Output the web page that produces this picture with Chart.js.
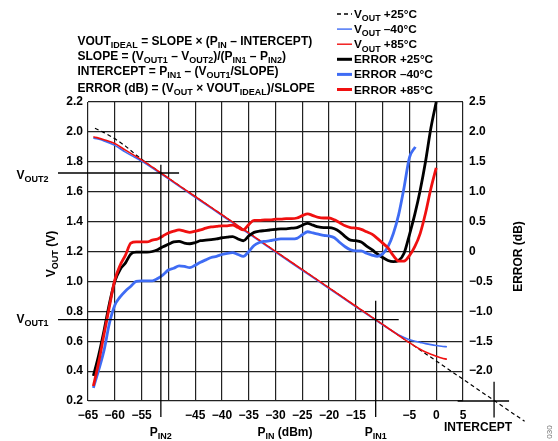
<!DOCTYPE html>
<html>
<head>
<meta charset="utf-8">
<script src="https://cdn.jsdelivr.net/npm/chart.js@4.4.1/dist/chart.umd.min.js"></script>
<style>
  body { margin: 0; background: #fff; }
  canvas { display: block; }
</style>
</head>
<body>
<canvas id="chart" width="558" height="441"></canvas>
<script>
// input power (dBm) and readings taken from the plot
const pinVout25 = [-63.7, -62, -60, -58, -56, -54, -50, -40, -30, -20, -10, 0, 16.5];
const vout25 = [2.024, 1.995, 1.955, 1.905, 1.845, 1.79, 1.691, 1.446, 1.201, 0.957, 0.712, 0.468, 0.064];

const pinVout = [-64, -62, -60, -58, -56, -55, -50, -45, -40, -35, -30, -25, -20, -15, -10, -8, -7, -6, -5, -4, -3, -2, -1, 0, 1, 2];
const voutM40 = [1.96, 1.94, 1.91, 1.865, 1.825, 1.805, 1.686, 1.563, 1.441, 1.319, 1.196, 1.074, 0.952, 0.830, 0.710, 0.663, 0.642, 0.625, 0.610, 0.600, 0.592, 0.584, 0.577, 0.571, 0.566, 0.563];
const vout85 = [1.968, 1.948, 1.922, 1.878, 1.835, 1.813, 1.691, 1.568, 1.446, 1.324, 1.201, 1.079, 0.957, 0.834, 0.712, 0.663, 0.638, 0.614, 0.590, 0.567, 0.546, 0.528, 0.513, 0.500, 0.488, 0.479];

const pinErr = [-64, -63, -62, -61, -60, -59, -58, -57, -56, -55, -54, -53, -52, -51, -50, -49, -48, -47, -46, -45,
  -44, -43, -42, -41, -40, -39, -38, -37, -36, -35, -34, -33, -32, -31, -30, -29, -28, -27, -26, -25,
  -24, -23, -22, -21, -20, -19, -18, -17, -16, -15, -14, -13, -12, -11, -10, -9, -8, -7, -6, -5, -4, -3, -2, -1, 0];
const err25 = [-2.08, -1.73, -1.32, -0.87, -0.50, -0.30, -0.19, -0.04, -0.01, -0.01, -0.01, 0.00, 0.03, 0.08, 0.12, 0.16, 0.17, 0.14, 0.13, 0.15,
  0.18, 0.19, 0.20, 0.21, 0.23, 0.24, 0.25, 0.21, 0.18, 0.26, 0.32, 0.34, 0.35, 0.36, 0.37, 0.38, 0.38, 0.39, 0.40, 0.44,
  0.47, 0.44, 0.41, 0.40, 0.40, 0.38, 0.33, 0.25, 0.19, 0.18, 0.16, 0.09, 0.03, -0.04, -0.10, -0.15, -0.17, -0.15, -0.03, 0.28, 0.62, 1.02, 1.50, 2.06, 2.50];
const err85 = [-2.25, -1.85, -1.38, -0.92, -0.48, -0.23, -0.06, 0.14, 0.16, 0.16, 0.16, 0.19, 0.21, 0.26, 0.31, 0.34, 0.36, 0.34, 0.32, 0.34,
  0.36, 0.39, 0.41, 0.42, 0.43, 0.43, 0.44, 0.40, 0.36, 0.45, 0.52, 0.52, 0.53, 0.53, 0.54, 0.54, 0.55, 0.55, 0.56, 0.60,
  0.63, 0.60, 0.57, 0.56, 0.56, 0.53, 0.48, 0.43, 0.40, 0.39, 0.37, 0.33, 0.29, 0.22, 0.14, 0.06, -0.07, -0.16, -0.16, -0.07, 0.08, 0.30, 0.64, 1.05, 1.40];
const pinErrM40 = [-64, -63, -62, -61, -60, -59, -58, -57, -56, -55, -54, -53, -52, -51, -50, -49, -48, -47, -46, -45,
  -44, -43, -42, -41, -40, -39, -38, -37, -36, -35, -34, -33, -32, -31, -30, -29, -28, -27, -26, -25,
  -24, -23, -22, -21, -20, -19, -18, -17, -16, -15, -14, -13, -12, -11, -10, -9, -8, -7, -6, -5, -3.9];
const errM40 = [-2.28, -1.98, -1.65, -1.20, -0.90, -0.76, -0.66, -0.58, -0.50, -0.49, -0.49, -0.49, -0.45, -0.39, -0.31, -0.28, -0.24, -0.25, -0.27, -0.23,
  -0.18, -0.14, -0.10, -0.08, -0.05, -0.03, -0.02, -0.05, -0.08, 0.00, 0.10, 0.15, 0.17, 0.18, 0.20, 0.21, 0.21, 0.21, 0.22, 0.28,
  0.33, 0.31, 0.29, 0.27, 0.26, 0.23, 0.15, 0.08, 0.03, 0.01, 0.01, -0.03, -0.06, -0.08, -0.04, 0.08, 0.30, 0.62, 1.07, 1.57, 1.75];

// two-point calibration markers
const pin2 = -51.4, pin1 = -11.3, vout2 = 1.725, vout1 = 0.744, intercept = 10.8;

const formulas = [
  'VOUT_{IDEAL} = SLOPE × (P_{IN} – INTERCEPT)',
  'SLOPE = (V_{OUT1} – V_{OUT2})/(P_{IN1} – P_{IN2})',
  'INTERCEPT = P_{IN1} – (V_{OUT1}/SLOPE)',
  'ERROR (dB) = (V_{OUT} × VOUT_{IDEAL})/SLOPE'
];

const BLUE = '#3f6cf4', RED = '#f01010', FONT = '"Liberation Sans", Arial, sans-serif';

function pts(xs, ys) { return xs.map((x, i) => ({ x: x, y: ys[i] })); }
function minus(s) { return String(s).replace('-', '\u2212'); }

function parts(str) {
  const bits = str.split(/_\{([^}]*)\}/);
  return bits.map((t, i) => [t, i % 2 === 1]).filter(p => p[0] !== '');
}
function richWidth(ctx, str, size) {
  let w = 0;
  parts(str).forEach(([t, sub]) => {
    ctx.font = 'bold ' + (sub ? size * 0.75 : size) + 'px ' + FONT;
    w += ctx.measureText(t).width;
  });
  return w;
}
function rich(ctx, str, x, y, size, align) {
  if (align === 'center') x -= richWidth(ctx, str, size) / 2;
  ctx.textAlign = 'left';
  ctx.textBaseline = 'alphabetic';
  parts(str).forEach(([t, sub]) => {
    ctx.font = 'bold ' + (sub ? size * 0.75 : size) + 'px ' + FONT;
    ctx.fillText(t, x, sub ? y + size * 0.28 : y);
    x += ctx.measureText(t).width;
  });
}

const datasets = [
  { label: 'VOUT +25°C', rich: 'V_{OUT} +25°C', data: pts(pinVout25, vout25), yAxisID: 'y', borderColor: '#000', borderWidth: 1.2, borderDash: [4, 3], tension: 0, clip: false, order: 5 },
  { label: 'VOUT -40°C', rich: 'V_{OUT} –40°C', data: pts(pinVout, voutM40), yAxisID: 'y', borderColor: BLUE, borderWidth: 1.6, cubicInterpolationMode: 'monotone', order: 4 },
  { label: 'VOUT +85°C', rich: 'V_{OUT} +85°C', data: pts(pinVout, vout85), yAxisID: 'y', borderColor: RED, borderWidth: 1.6, cubicInterpolationMode: 'monotone', order: 3 },
  { label: 'ERROR +25°C', rich: 'ERROR +25°C', data: pts(pinErr, err25), yAxisID: 'y2', borderColor: '#000', borderWidth: 2.8, cubicInterpolationMode: 'monotone', order: 2 },
  { label: 'ERROR -40°C', rich: 'ERROR –40°C', data: pts(pinErrM40, errM40), yAxisID: 'y2', borderColor: BLUE, borderWidth: 2.8, cubicInterpolationMode: 'monotone', order: 1 },
  { label: 'ERROR +85°C', rich: 'ERROR +85°C', data: pts(pinErr, err85), yAxisID: 'y2', borderColor: RED, borderWidth: 2.8, cubicInterpolationMode: 'monotone', order: 0 }
];

const decorations = {
  id: 'decorations',
  afterDraw(chart) {
    const ctx = chart.ctx, xs = chart.scales.x, ys = chart.scales.y;
    const X = v => xs.getPixelForValue(v), Y = v => ys.getPixelForValue(v);
    ctx.save();
    ctx.strokeStyle = '#000';
    ctx.lineWidth = 1.3;
    const seg = (x0, y0, x1, y1) => { ctx.beginPath(); ctx.moveTo(x0, y0); ctx.lineTo(x1, y1); ctx.stroke(); };
    seg(X(-70.6), Y(vout2), X(-48), Y(vout2));
    seg(X(-70.6), Y(vout1), X(-7), Y(vout1));
    seg(X(pin2), Y(1.78), X(pin2), Y(0.093));
    seg(X(pin1), Y(0.871), X(pin1), Y(0.093));
    seg(X(intercept), Y(0.329), X(intercept), Y(0.09));
    seg(X(4.0), Y(0.2), X(13.6), Y(0.2));

    ctx.fillStyle = '#000';
    formulas.forEach((f, i) => rich(ctx, f, 77.5, [45, 60, 75, 91.5][i], 12));

    // legend
    chart.data.datasets.forEach((ds, i) => {
      const y = 14 + i * 15.1;
      ctx.strokeStyle = ds.borderColor;
      ctx.lineWidth = i < 3 ? 1.4 : 3;
      ctx.setLineDash(ds.borderDash || []);
      seg(337, y, 352, y);
      ctx.setLineDash([]);
      rich(ctx, ds.rich, 354, y + 4, 11.8);
    });

    rich(ctx, 'V_{OUT2}', 16.5, Y(vout2) + 5.5, 12);
    rich(ctx, 'V_{OUT1}', 16.5, Y(vout1) + 3, 12);
    rich(ctx, 'P_{IN2}', X(pin2), 436, 12, 'center');
    rich(ctx, 'P_{IN1}', X(pin1), 436, 12, 'center');
    rich(ctx, 'P_{IN} (dBm)', 285, 436, 12, 'center');
    rich(ctx, 'INTERCEPT', 478, 431, 12, 'center');

    ctx.save();
    ctx.translate(55, 254);
    ctx.rotate(-Math.PI / 2);
    rich(ctx, 'V_{OUT} (V)', 0, 0, 12, 'center');
    ctx.restore();
    ctx.save();
    ctx.translate(521.5, 256.5);
    ctx.rotate(-Math.PI / 2);
    rich(ctx, 'ERROR (dB)', 0, 0, 12, 'center');
    ctx.restore();
    ctx.save();
    ctx.translate(552, 432);
    ctx.rotate(-Math.PI / 2);
    ctx.fillStyle = '#777';
    ctx.font = '8px ' + FONT;
    ctx.textAlign = 'center';
    ctx.fillText('030', 0, 0);
    ctx.restore();
    ctx.restore();
  }
};

const tickFont = { family: FONT, size: 12, weight: 'bold' };
const gridOpts = { color: '#222', lineWidth: 1.2, drawTicks: false };

new Chart(document.getElementById('chart').getContext('2d'), {
  type: 'line',
  data: { datasets: datasets },
  options: {
    responsive: false,
    animation: false,
    devicePixelRatio: 1,
    layout: { padding: { top: 102, left: 0, right: 0, bottom: 0 } },
    elements: { point: { radius: 0 } },
    plugins: { legend: { display: false }, tooltip: { enabled: false } },
    scales: {
      x: {
        type: 'linear', min: -65, max: 5,
        grid: gridOpts, border: { display: false },
        ticks: {
          stepSize: 5, autoSkip: false, maxRotation: 0, padding: 7, color: '#000', font: tickFont,
          callback: v => (v === -50 || v === -10) ? '' : minus(v)
        },
        afterFit: s => { s.height = 40; }
      },
      y: {
        position: 'left', min: 0.2, max: 2.2,
        grid: gridOpts, border: { display: false },
        ticks: { stepSize: 0.2, padding: 5, color: '#000', font: tickFont, callback: v => v.toFixed(1) },
        afterFit: s => { s.width = 88; }
      },
      y2: {
        position: 'right', min: -2.5, max: 2.5,
        grid: { display: false, drawTicks: false }, border: { display: false },
        ticks: {
          stepSize: 0.5, padding: 6, color: '#000', font: tickFont,
          callback: v => Math.abs(v) < 1e-9 ? '0' : (Math.abs(v + 2.5) < 1e-9 ? '' : minus(v.toFixed(1)))
        },
        afterFit: s => { s.width = 95; }
      }
    }
  },
  plugins: [decorations]
});
</script>
</body>
</html>
